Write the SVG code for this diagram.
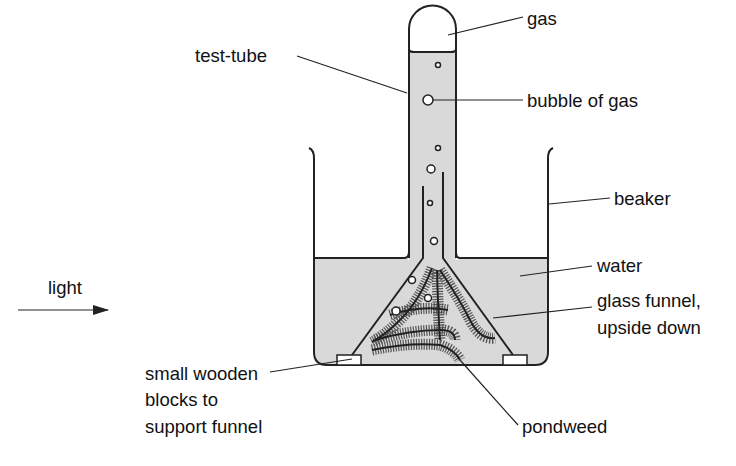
<svg xmlns="http://www.w3.org/2000/svg" width="736" height="466" viewBox="0 0 736 466">
<style>
.o{fill:none;stroke:#222;stroke-width:2}
.l{fill:none;stroke:#222;stroke-width:1.2}
.b{fill:#fff;stroke:#222;stroke-width:1.5}
text{font-family:"Liberation Sans",Arial,sans-serif;font-size:18.5px;fill:#111}
.lf{fill:none;stroke:#555;stroke-width:11;stroke-dasharray:1.2 1.4}
.st{fill:none;stroke:#222;stroke-width:2}
</style>
<defs><marker id="ah" markerWidth="16" markerHeight="10" refX="15" refY="5" orient="auto" markerUnits="userSpaceOnUse"><path d="M0,0L16,5L0,10z" fill="#222"/></marker></defs>
<rect width="736" height="466" fill="#fff"/>
<g id="beaker">
<path d="M314,258 H404 Q409,258 409,262 L409,258 V52 H456 V258 Q456,262 460,258 H548 V352 Q548,365 535,365 H327 Q314,365 314,352 Z" fill="#d9d9d9"/>
<path class="o" d="M309,148 Q314,150 314,158 V352 Q314,365 327,365 H535 Q548,365 548,352 V158 Q548,150 553,148"/>
<path class="o" d="M314,258 H404 Q409,258 409,252"/>
<path class="o" d="M548,258 H460 Q456,258 456,252"/>
</g>
<g id="test-tube">
<path d="M409,52 V29 A23.5,23.5 0 0 1 456,29 V52 Z" fill="#fff"/>
<path class="o" d="M409,258 V29 A23.5,23.5 0 0 1 456,29 V258"/>
<path class="o" d="M409,50 Q410,52 414,52 H451 Q455,52 456,50"/>
</g>
<g id="funnel">
<path class="o" d="M423,186 V258 L352,355"/>
<path class="o" d="M443,172 V258 L513,355"/>
</g>
<g id="blocks">
<rect x="337" y="355" width="24" height="10" class="b"/>
<rect x="503" y="355" width="24" height="10" class="b"/>
</g>
<g id="pondweed">
<path class="lf" d="M432,268 Q420,300 400,320 Q385,335 372,342"/>
<path class="lf" d="M437,270 Q438,310 440,340"/>
<path class="lf" d="M440,270 Q460,300 470,320 Q480,340 495,338"/>
<path class="lf" d="M375,340 Q410,330 440,330 Q455,330 455,340"/>
<path class="lf" d="M372,350 Q410,342 440,345 Q455,350 460,360"/>
<path class="lf" d="M390,315 Q420,305 448,310"/>
<path class="st" d="M432,268 Q420,300 400,320 Q385,335 372,342"/>
<path class="st" d="M437,270 Q438,310 440,340"/>
<path class="st" d="M440,270 Q460,300 470,320 Q480,340 495,338"/>
<path class="st" d="M375,340 Q410,330 440,330 Q455,330 455,340"/>
<path class="st" d="M372,350 Q410,342 440,345 Q455,350 460,360"/>
<path class="st" d="M390,315 Q420,305 448,310"/>
</g>
<g id="bubbles">
<circle cx="438" cy="65" r="2.5" class="b"/>
<circle cx="428" cy="100" r="5" class="b"/>
<circle cx="438" cy="148" r="2.5" class="b"/>
<circle cx="431" cy="169" r="4" class="b"/>
<circle cx="430" cy="203" r="2.5" class="b"/>
<circle cx="434" cy="241" r="3.5" class="b"/>
<circle cx="412" cy="280" r="3.5" class="b"/>
<circle cx="428" cy="298" r="3.5" class="b"/>
<circle cx="396" cy="311" r="4" class="b"/>
</g>
<g id="connectors">
<path class="l" d="M448,35 L523,17"/>
<path class="l" d="M297,56 L407,93"/>
<path class="l" d="M433,100 L523,100"/>
<path class="l" d="M549,204 L610,198"/>
<path class="l" d="M520,276 L592,266"/>
<path class="l" d="M493,318 L592,307"/>
<path class="l" d="M270,372 L352,359"/>
<path class="l" d="M460,360 L518,425"/>
<path class="l" d="M18,310 L108,310" marker-end="url(#ah)" stroke-width="1.5"/>
</g>
<g id="labels">
<text x="527" y="25">gas</text>
<text x="195" y="62">test-tube</text>
<text x="527" y="107">bubble of gas</text>
<text x="614" y="205">beaker</text>
<text x="597" y="272">water</text>
<text x="597" y="307">glass funnel,</text>
<text x="597" y="334">upside down</text>
<text x="48" y="294">light</text>
<text x="145" y="380">small wooden</text>
<text x="145" y="406">blocks to</text>
<text x="145" y="433">support funnel</text>
<text x="522" y="433">pondweed</text>
</g>
</svg>
